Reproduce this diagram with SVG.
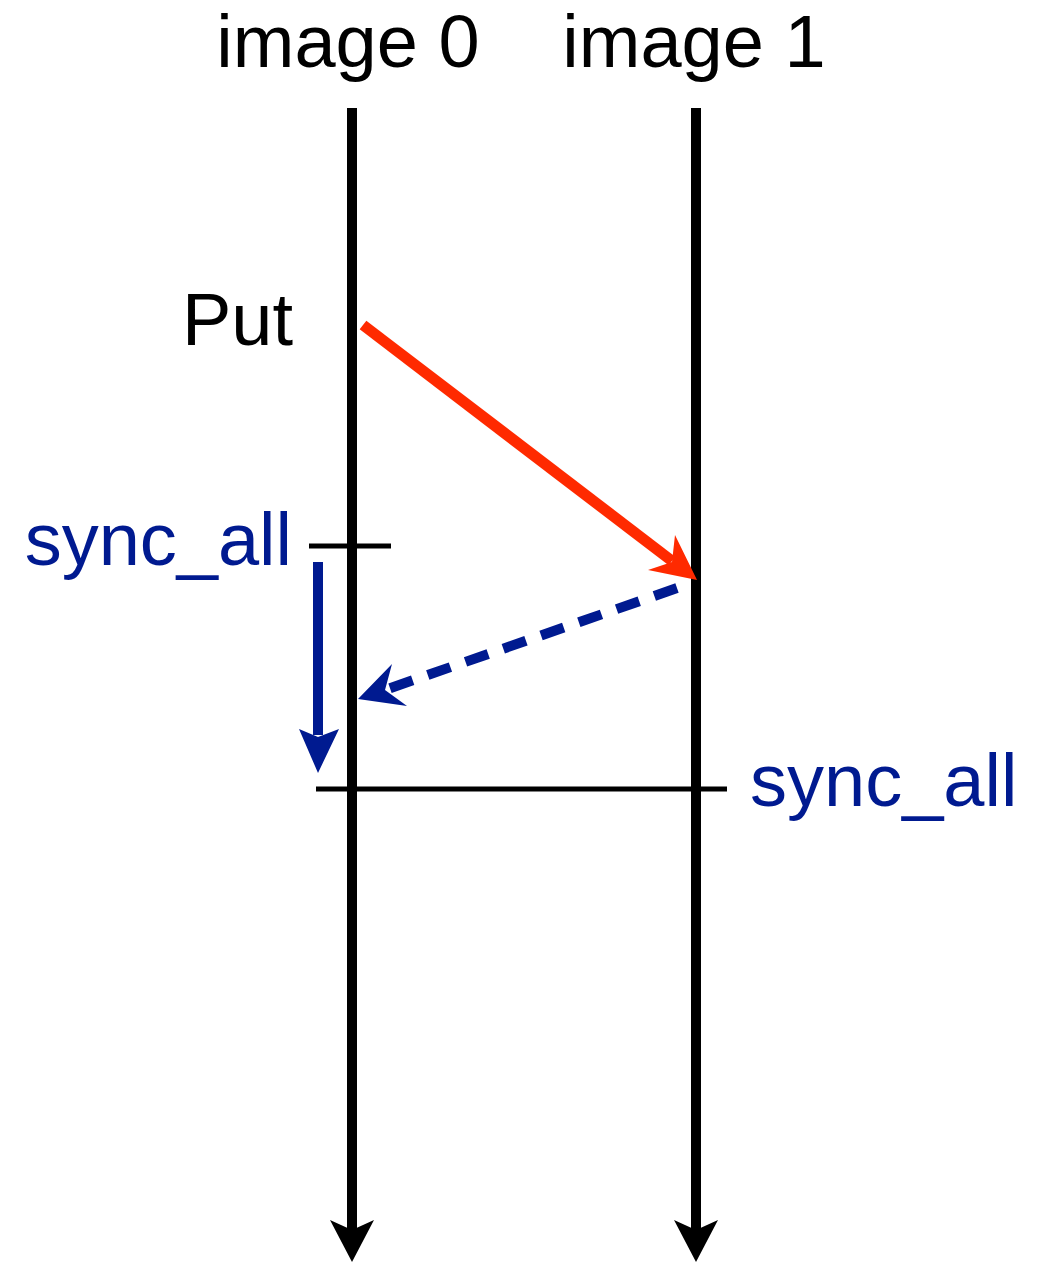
<svg xmlns="http://www.w3.org/2000/svg" width="1040" height="1262" viewBox="0 0 1040 1262">
<style>
text{font-family:"Liberation Sans",Arial,sans-serif;font-size:74px}
.blk{fill:#000}
.blu{fill:#001a90}
</style>
<rect width="1040" height="1262" fill="#fff"/>
<g id="timelines">
<g id="image0">
<text x="348" y="67" text-anchor="middle" class="blk">image 0</text>
<line x1="352" y1="108" x2="352" y2="1240" stroke="#000" stroke-width="10"/>
<polygon points="330,1220 352,1262 374,1220 352,1230" fill="#000"/>
</g>
<g id="image1">
<text x="694" y="67" text-anchor="middle" class="blk">image 1</text>
<line x1="696" y1="108" x2="696" y2="1240" stroke="#000" stroke-width="10"/>
<polygon points="674,1220 696,1262 718,1220 696,1230" fill="#000"/>
</g>
</g>
<g id="labels">
<text id="put" x="293" y="345" text-anchor="end" class="blk">Put</text>
<text id="sync0" x="292" y="565" text-anchor="end" class="blu">sync_all</text>
<text id="sync1" x="750" y="806" class="blu">sync_all</text>
</g>
<g id="connectors">
<line id="tick" x1="309" y1="546" x2="391" y2="546" stroke="#000" stroke-width="5"/>
<line id="barrier" x1="316" y1="789" x2="727" y2="789" stroke="#000" stroke-width="5"/>
<g id="put-arrow">
<line x1="363" y1="325" x2="672" y2="561" stroke="#ff2a00" stroke-width="11"/>
<polygon points="697,580 675,535 672,562 648,570" fill="#ff2a00"/>
</g>
<g id="sync-down">
<line x1="318" y1="562" x2="318" y2="735" stroke="#001a90" stroke-width="10"/>
<polygon points="299,729 318,773 339,729 318,737" fill="#001a90"/>
</g>
<g id="notify">
<line x1="677" y1="588" x2="385" y2="690" stroke="#001a90" stroke-width="10" stroke-dasharray="24,16"/>
<polygon points="358,699 392,664 385,690 407,706" fill="#001a90"/>
</g>
</g>
</svg>
